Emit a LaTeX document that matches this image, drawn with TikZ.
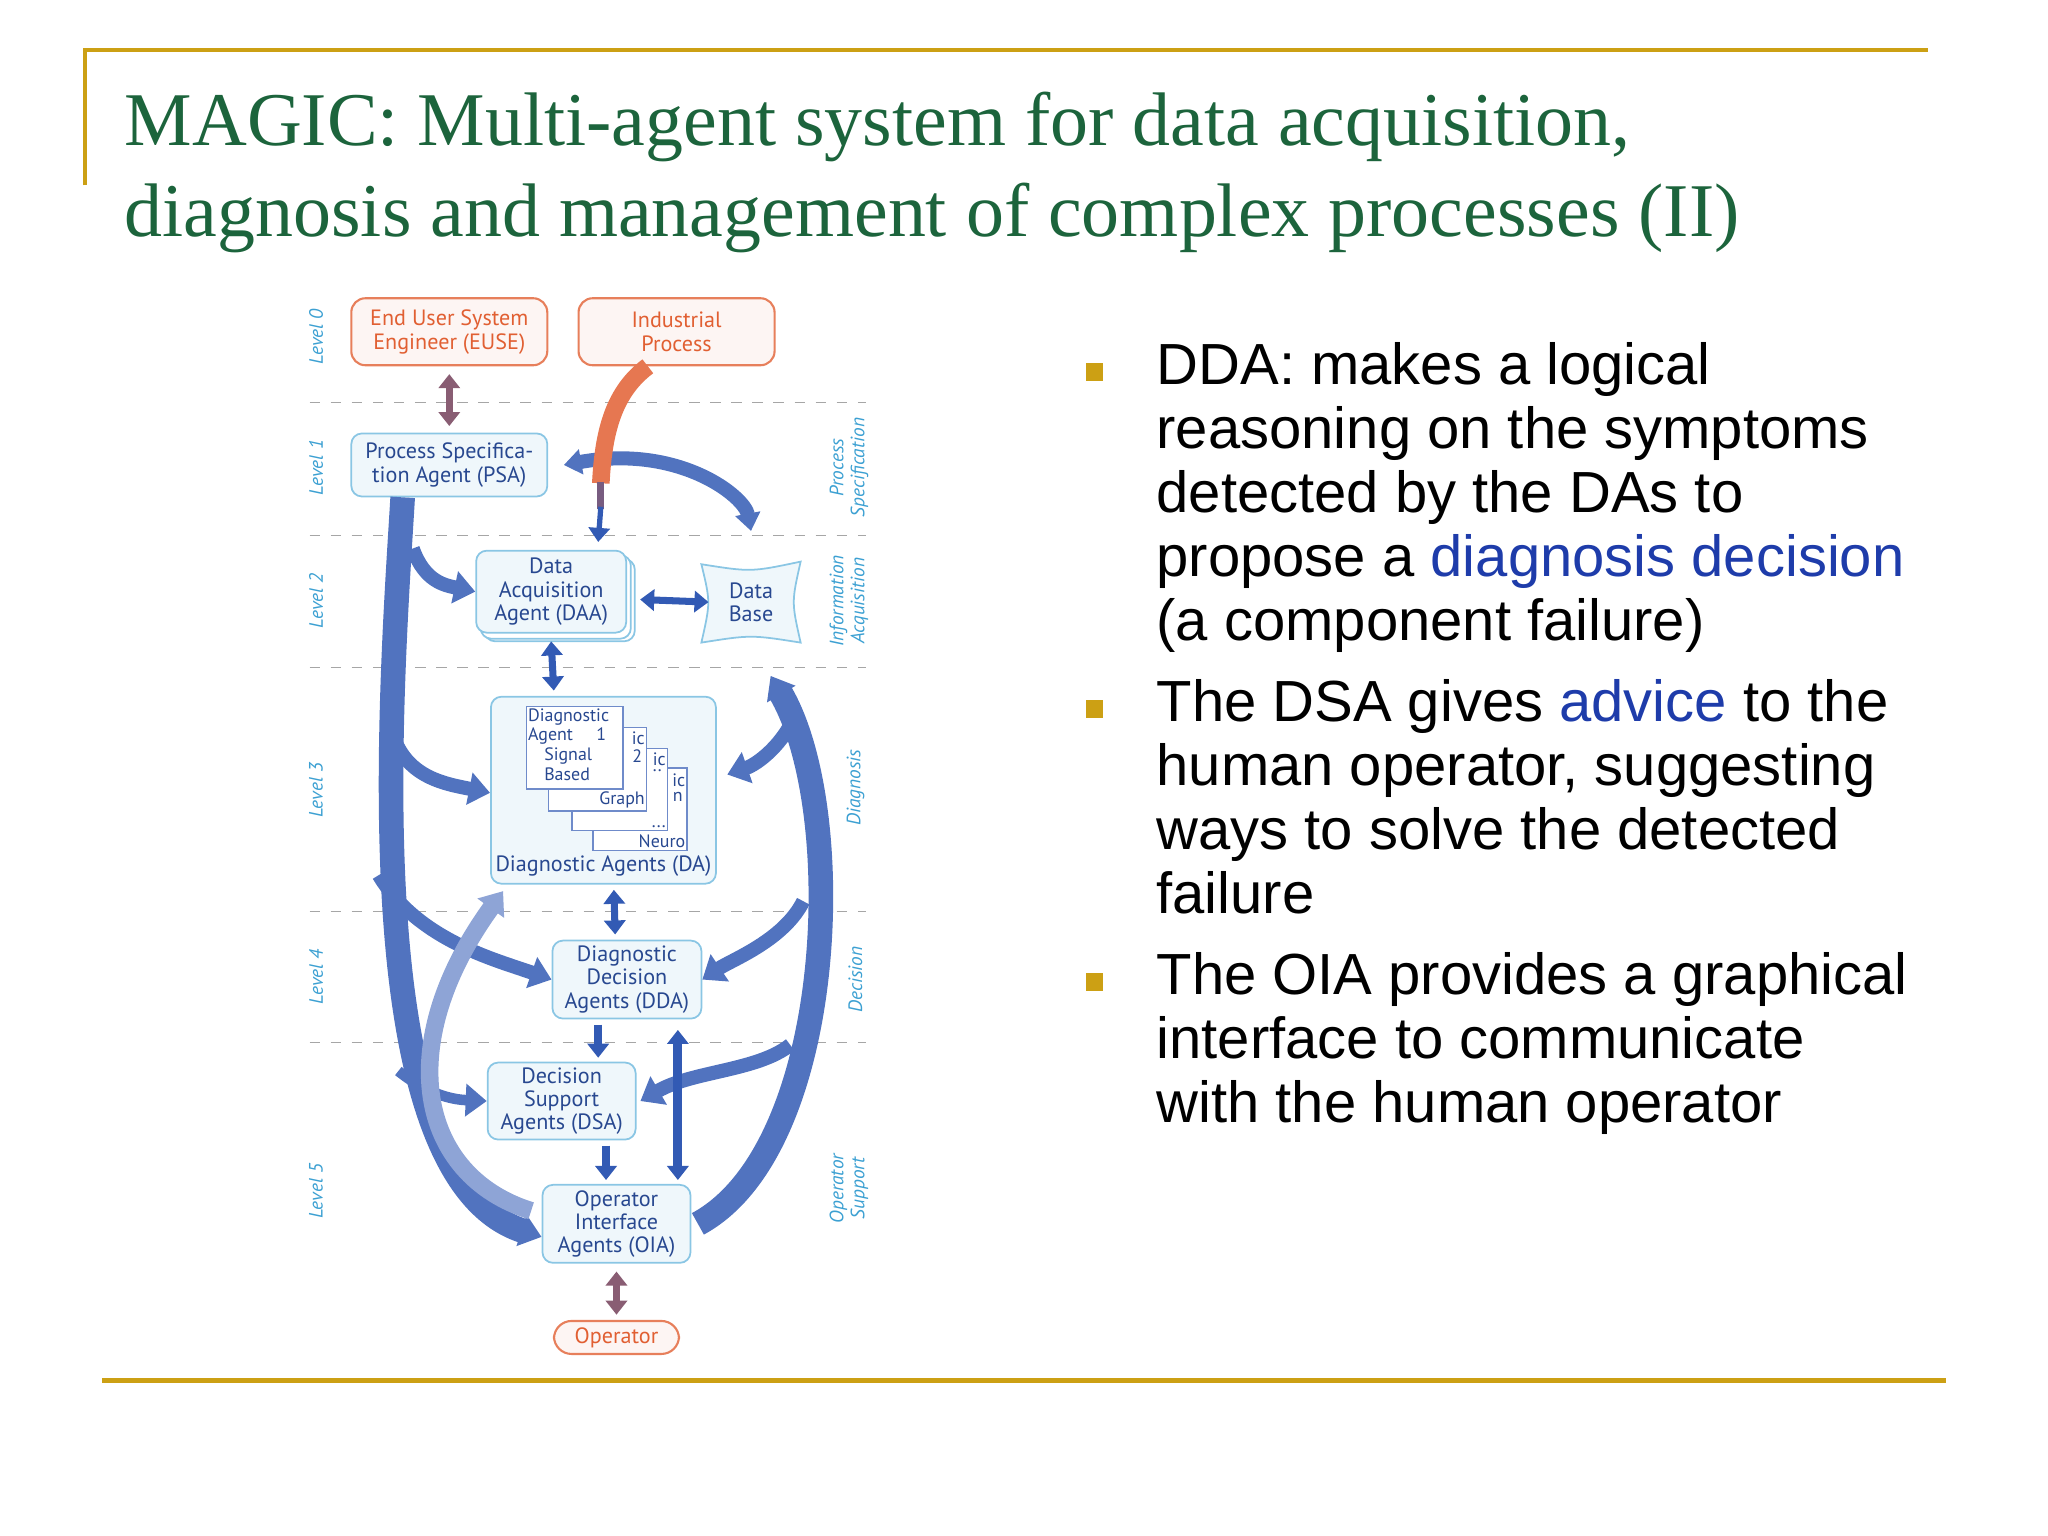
\documentclass[tikz,border=0pt]{standalone}
\usepackage{fontspec}
\setmainfont{Liberation Serif}
\newfontfamily\arialf{Liberation Sans}
\newfontfamily\diagf{PT Sans}
\usetikzlibrary{arrows.meta,calc}
\definecolor{gold}{RGB}{204,160,20}
\definecolor{ttl}{RGB}{28,100,60}
\definecolor{hl}{RGB}{30,60,170}
\definecolor{bl}{RGB}{50,90,180}
\definecolor{lbl}{RGB}{60,160,210}
\definecolor{org}{RGB}{225,95,50}
\begin{document}
\begin{tikzpicture}[x=0.013061cm,y=-0.013061cm,
  dtext/.style={font=\diagf\fontsize{6.3}{6.6}\selectfont,align=center,text=bl!80!black},
  agent/.style={draw=lbl!60,fill=lbl!8,rounded corners=3pt,line width=0.5pt,dtext,inner sep=0pt},
  ext/.style={draw=org!80,fill=org!6,rounded corners=4pt,line width=0.6pt,align=center,font=\diagf\fontsize{6.3}{6.8}\selectfont,text=org,inner sep=0pt},
  lev/.style={font=\diagf\itshape\fontsize{5.5}{6}\selectfont,text=lbl,rotate=90,align=center},
  dline/.style={dashed,draw=gray!70,line width=0.4pt},
  big/.style={draw=bl!85,line width=#1,-{Triangle[length=6pt,width=9pt]}},
  big/.default=6pt,
  mid/.style={draw=bl,line width=2.2pt,-{Triangle[length=4pt,width=6pt]}},
  both/.style={draw=bl,line width=2pt,{Triangle[length=4pt,width=6pt]}-{Triangle[length=4pt,width=6pt]}},
  bul/.style={fill=gold,minimum size=5pt,inner sep=0pt},
  btext/.style={font=\arialf\fontsize{16.5}{18.2}\selectfont,align=left,anchor=north west,inner sep=0pt},
  card/.style={font=\diagf\fontsize{5.1}{5.6}\selectfont,text=bl!80!black,inner sep=0.3pt}
]
\path[use as bounding box] (0,0) rectangle (1568,1176);
% frame
\draw[gold,line width=1.2pt] (65,142) -- (65,38) -- (1476,38);
\draw[gold,line width=1.2pt] (78,1057) -- (1490,1057);
% title
\node[anchor=north west,inner sep=0pt,text=ttl,font=\fontsize{21.6}{26}\selectfont,align=left] (title) at (95,70)
 {MAGIC: Multi-agent system for data acquisition,\\diagnosis and management of complex processes (II)};
% bullets
\node[bul] (b1) at (838,285) {};
\node[btext] (t1) at (885,262) {DDA: makes a logical\\reasoning on the symptoms\\detected by the DAs to\\propose a \textcolor{hl}{diagnosis decision}\\(a component failure)};
\node[bul] (b2) at (838,543) {};
\node[btext] (t2) at (885,520) {The DSA gives \textcolor{hl}{advice} to the\\human operator, suggesting\\ways to solve the detected\\failure};
\node[bul] (b3) at (838,752) {};
\node[btext] (t3) at (885,729) {The OIA provides a graphical\\interface to communicate\\with the human operator};
% dashed lines
\foreach \yy in {308,410,511,698,798} \draw[dline] (237,\yy) -- (663,\yy);
% level labels
\node[lev] (l0) at (242,258) {Level 0};
\node[lev] (l1) at (242,358) {Level 1};
\node[lev] (l2) at (242,460) {Level 2};
\node[lev] (l3) at (242,605) {Level 3};
\node[lev] (l4) at (242,748) {Level 4};
\node[lev] (l5) at (242,912) {Level 5};
\node[lev] (r1) at (650,358) {Process\\Specification};
\node[lev] (r2) at (650,460) {Information\\Acquisition};
\node[lev] (r3) at (655,603) {Diagnosis};
\node[lev] (r4) at (655,750) {Decision};
\node[lev] (r5) at (650,910) {Operator\\Support};
% nodes
\node[ext,minimum width=1.96cm,minimum height=0.67cm] (euse) at (344,254) {End User System\\Engineer (EUSE)};
\node[ext,minimum width=1.96cm,minimum height=0.67cm] (ind) at (518,254) {Industrial\\Process};
\node[agent,minimum width=1.96cm,minimum height=0.63cm] (psa) at (344,356) {Process Specifica-\\tion Agent (PSA)};
\draw[lbl!60,fill=white,rounded corners=3pt,line width=0.5pt] (371,428) rectangle (486,491);
\draw[lbl!60,fill=white,rounded corners=3pt,line width=0.5pt] (368,425) rectangle (483,489);
\node[agent,minimum width=1.5cm,minimum height=0.82cm] (daa) at (422,453) {Data\\Acquisition\\Agent (DAA)};
\draw[lbl!60,fill=lbl!8,line width=0.5pt] (537,432) .. controls (575,438) .. (613,430) .. controls (606,461) .. (613,492) .. controls (575,486) .. (537,492) .. controls (544,461) .. (537,432) -- cycle;
\node[dtext] (db) at (575,461) {Data\\Base};
\node[agent,minimum width=2.25cm,minimum height=1.87cm] (da) at (462,605) {};
\node[dtext,anchor=south,inner sep=1pt] (dal) at (462,674) {Diagnostic Agents (DA)};
\foreach \a/\b/\c/\d in {454/588/526/651,438/573/511/636,420/557/495/621,403/541/477/604}
  \draw[bl!70,fill=white,line width=0.4pt] (\a,\b) rectangle (\c,\d);
\node[card,anchor=north west,align=left] (c1) at (403,541) {Diagnostic\\Agent\hspace{1.3em}1\\\hspace{0.9em}Signal\\\hspace{0.9em}Based};
\node[card,anchor=north east] (c2a) at (495,559) {ic};
\node[card,anchor=north east] (c2b) at (493,573) {2};
\node[card,anchor=south east] (c2c) at (495,620) {Graph};
\node[card,anchor=north east] (c3a) at (511,575) {ic};
\node[card,anchor=north east] (c3b) at (508,588) {..};
\node[card,anchor=south east] (c3c) at (511,635) {...};
\node[card,anchor=north east] (c4a) at (526,591) {ic};
\node[card,anchor=north east] (c4b) at (524,605) {n};
\node[card,anchor=south east] (c4c) at (526,650) {Neuro};
\node[agent,minimum width=1.49cm,minimum height=0.78cm] (dda) at (480,750) {Diagnostic\\Decision\\Agents (DDA)};
\node[agent,minimum width=1.48cm,minimum height=0.77cm] (dsa) at (430,843) {Decision\\Support\\Agents (DSA)};
\node[agent,minimum width=1.48cm,minimum height=0.78cm] (oia) at (472,937) {Operator\\Interface\\Agents (OIA)};
\node[ext,minimum width=1.25cm,minimum height=0.33cm,rounded corners=5pt] (op) at (472,1024) {Operator};
% big left curve
\draw[big=7pt] ($(psa.south west)+(40,0)$) .. controls (300,520) and (270,900) .. ($(oia.west)+(0,10)$);
\draw[big=4pt] (316,420) .. controls (325,445) and (340,448) .. (daa.west);
\draw[big=4pt] (300,560) .. controls (310,595) and (340,600) .. ($(da.west)+(0,2)$);
\draw[big=4pt] (290,670) .. controls (320,720) and (380,735) .. (dda.west);
\draw[big=3pt] (305,820) .. controls (330,840) and (350,842) .. (dsa.west);
\draw[big=5pt,draw=bl!55] ($(oia.west)+(-8,-10)$) .. controls (320,900) and (300,800) .. ($(da.south west)+(10,5)$);
% big right curve
\draw[big=7pt] ($(oia.east)+(5,0)$) .. controls (640,880) and (650,620) .. ($(db.south)+(15,32)$);
\draw[big=4pt] (610,545) .. controls (600,570) and (580,585) .. ($(da.east)+(8,-12)$);
\draw[big=4pt] (615,690) .. controls (600,720) and (560,735) .. (dda.east);
\draw[big=4pt] (605,800) .. controls (580,820) and (530,820) .. ($(dsa.east)+(3,0)$);
% PSA <-> Data Base
\draw[big=4pt,{Triangle[length=5pt,width=7pt]}-{Triangle[length=5pt,width=7pt]}] ($(psa.east)+(12,0)$) .. controls (520,340) and (570,380) .. ($(db.north)+(0,-30)$);
% industrial process
\draw[line width=5pt,draw=org!85] ($(ind.south)+(-22,0)$) .. controls (470,300) and (462,330) .. (460,370);
\draw[line width=2pt,draw=org!40!bl] (460,369) -- (460,390);
\draw[mid,line width=1.5pt] (460,388) -- ($(daa.north)+(36,-6)$);
% straight connectors
\draw[both,draw=org!50!bl] (euse.south) ++(0,6) -- ($(psa.north)+(0,-5)$);
\draw[both] ($(daa.east)+(10,6)$) -- ($(db.west)+(-6,0)$);
\draw[both] ($(daa.south)+(0,6)$) -- ($(da.north)+(-38,-4)$);
\draw[both] ($(da.south)+(8,4)$) -- ($(dda.north)+(-9,-4)$);
\draw[mid] ($(dda.south)+(-22,4)$) -- ($(dsa.north)+(28,-3)$);
\draw[mid] ($(dsa.south)+(34,4)$) -- ($(oia.north)+(-8,-3)$);
\draw[both,line width=2.6pt] ($(dda.south)+(39,8)$) -- ($(oia.north)+(47,-3)$);
\draw[both,draw=org!50!bl] ($(oia.south)+(0,6)$) -- ($(op.north)+(0,-4)$);
\end{tikzpicture}
\end{document}
